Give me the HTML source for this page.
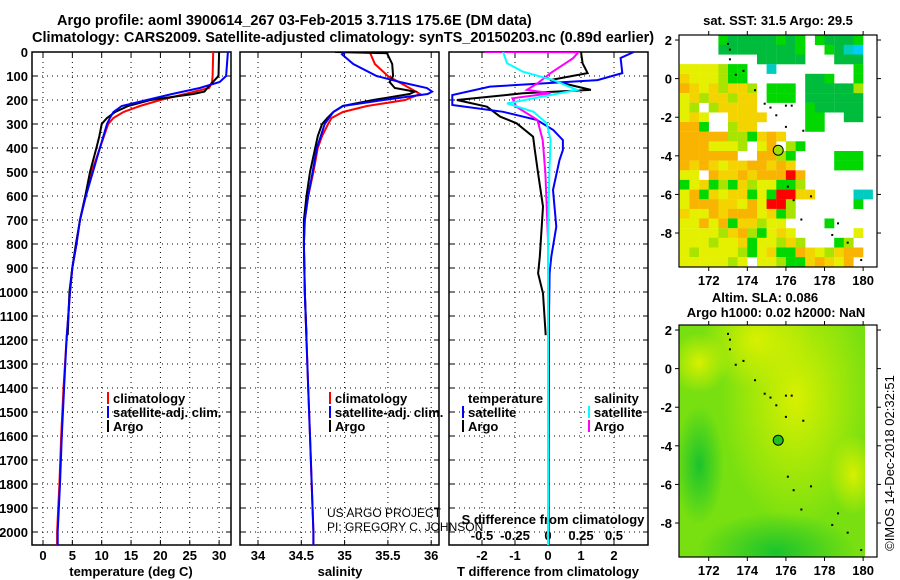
<!DOCTYPE html>
<html><head><meta charset="utf-8"><style>
html,body{margin:0;padding:0;background:#fff;}
svg{display:block;font-family:"Liberation Sans",sans-serif;}
.b{font-weight:bold;font-size:13px;}
.t{font-weight:bold;font-size:14.5px;}
</style></head><body>
<svg id="chart" width="900" height="580" viewBox="0 0 900 580" xmlns="http://www.w3.org/2000/svg">
<text class="t" x="57" y="25" text-anchor="start">Argo profile: aoml 3900614_267 03-Feb-2015 3.711S 175.6E (DM data)</text>
<text class="t" x="32" y="42" text-anchor="start">Climatology: CARS2009. Satellite-adjusted climatology: synTS_20150203.nc (0.89d earlier)</text>
<g id="g"></g>
</svg>
<script>
// ---- profile data ----
const tClimDepth=[0,100,125,150,175,200,225,250,275,300,400,500,600,700,800,900,1000,1200,1400,1600,1800,2000,2055];
const tClimVal=[29.0,28.9,28.8,28.3,24.2,20.0,16.5,13.7,12.0,11.1,9.7,8.3,7.2,6.3,5.7,5.0,4.6,4.0,3.5,3.1,2.8,2.4,2.4];
const tSatDepth=[0,100,125,150,175,200,225,250,275,300,400,500,600,700,800,900,1000,1200,1400,1600,1800,2000,2055];
const tSatVal=[31.5,31.2,30.1,26.7,22.0,17.7,13.4,12.0,11.4,10.9,9.7,8.5,7.3,6.3,5.7,5.0,4.6,4.0,3.6,3.2,2.9,2.5,2.5];
const tArgoDepth=[0,100,110,150,165,175,200,225,250,275,300,350,400,500,600,700,800,900,1000,1180];
const tArgoVal=[30.0,29.9,29.5,28.0,27.5,25.6,18.3,14.5,12.3,10.9,10.0,9.6,9.1,8.0,7.2,6.3,5.6,5.0,4.5,4.2];

const sClimDepth=[0,50,100,150,175,200,225,250,275,300,350,400,500,600,700,800,1000,1200,1400,1600,1800,2000,2055];
const sClimVal=[35.29,35.35,35.5,35.75,35.87,35.7,35.26,34.98,34.85,34.81,34.74,34.69,34.64,34.58,34.54,34.53,34.54,34.56,34.58,34.6,34.62,34.64,34.64];
const sSatDepth=[0,10,50,100,125,150,165,175,200,225,250,300,400,500,600,700,800,1000,1200,1400,1600,1800,2000,2055];
const sSatVal=[35.0,34.97,35.1,35.37,35.64,35.95,36.01,35.96,35.45,34.98,34.87,34.77,34.68,34.63,34.58,34.54,34.53,34.54,34.56,34.58,34.6,34.62,34.64,34.64];
const sArgoDepth=[0,5,50,100,125,150,165,175,200,225,250,275,300,350,400,500,600,700,800,1000,1180];
const sArgoVal=[34.89,35.49,35.55,35.56,35.52,35.58,35.81,35.75,35.33,34.98,34.87,34.8,34.74,34.69,34.66,34.6,34.56,34.53,34.53,34.54,34.56];

const dTSatDepth=[0,25,88,117,144,179,221,249,283,325,367,408,450,575,728,853,922,1100,1400,1700,2000,2055];
const dTSatVal=[2.6,2.2,2.25,1.5,-1.76,-2.9,-2.9,-1.36,-0.34,0.16,0.45,0.45,0.35,0.15,0.25,0.1,0.05,0.03,0.03,0.02,0.02,0.02];
const dTArgoDepth=[0,47,88,117,158,172,200,228,269,297,353,408,506,644,853,922,1006,1180];
const dTArgoVal=[1.0,1.05,1.2,0.06,1.3,-0.76,-2.76,-1.85,-1.45,-0.95,-0.45,-0.4,-0.3,-0.15,-0.25,-0.3,-0.15,-0.07];
const dSSatDepth=[0,47,82,117,158,179,214,249,297,367,506,783,2055];
const dSSatVal=[-0.34,-0.31,-0.19,0.04,0.22,0.02,-0.31,-0.11,-0.01,0.02,0.01,0.0,0.0];
const dSArgoDepth=[0,1,26,88,131,158,172,193,228,283,367,506,783,1180];
const dSArgoVal=[-0.48,0.23,0.19,0.02,-0.08,-0.16,0.02,-0.27,-0.24,-0.08,-0.04,-0.02,0.0,0.0];

const depthTicks=[0,100,200,300,400,500,600,700,800,900,1000,1100,1200,1300,1400,1500,1600,1700,1800,1900,2000];
const tTicks=[0,5,10,15,20,25,30];
const sTicks=[34,34.5,35,35.5,36];
const sTickLabels=["34","34.5","35","35.5","36"];
const dTTicks=[-2,-1,0,1,2];
const dSTicks=[-0.5,-0.25,0,0.25,0.5];
const dSTickLabels=["-0.5","-0.25","0","0.25","0.5"];

// ---- SST map grid (0.5 deg cells, lon 170.5.., lat 2.25 downward) ----
const sstRows=[
"....gGGGGGgGg.gGGGg.",
"....GGGGGGGGg..gGcC.",
"........GGGGG...GGG.",
"yyyylgg..c........g.",
"Yyyylgg......GGg..g.",
"oYyYlYYl.ggg.GGGGGl.",
"yYlYYlYY.ggg.GGGGGG.",
"yl.lYYYY.....gGGGGG.",
"yYy..YYYY....gg..GG.",
"oog..lYY.....gg.....",
"ooooollgYoY.........",
"oooyyyl.yo.lg.......",
"oooooo..oolg....ggg.",
"oYoYyYYooYoY....ggg.",
"yy.oYYoYoooro.......",
"gyYglgYlyyggl.......",
"yogYyYYgygrrYY....cc",
"yoooYYyoyrrl......g.",
"YyyoYoooyYgl........",
"yyoyogYYlyy....g....",
"yyyylYolgyYy......y.",
"yyylyyYgyylYl...gl..",
"ylyyyylgyYggoYylYoo.",
"yyyyyly.yylggYoYyo.."];
const sstColors={y:"#e4f000",Y:"#f4d400",o:"#f8b400",l:"#a8e400",g:"#00d800",G:"#00bc3c",r:"#ff0000",c:"#00ccc0",C:"#00ccff"};
const islandLon=[173,173.1,173.1,173.4,173.8,174.4,174.9,175.2,175.5,176.0,176.3,176.0,176.9,176.1,176.4,177.3,176.8,178.7,178.4,179.2,179.9];
const islandLat=[1.8,1.5,1.0,0.2,0.4,-0.6,-1.3,-1.5,-1.9,-1.4,-1.4,-2.5,-2.7,-5.6,-6.3,-6.1,-7.3,-7.5,-8.1,-8.5,-9.4];
const argoLon=175.6, argoLat=-3.711;
const latTicks=[2,0,-2,-4,-6,-8];
const lonTicks=[172,174,176,178,180];

const NS="http://www.w3.org/2000/svg";
const G=document.getElementById('g');
function el(tag,attrs,parent){const e=document.createElementNS(NS,tag);for(const k in attrs)e.setAttribute(k,attrs[k]);(parent||G).appendChild(e);return e;}
function txt(x,y,s,cls,anchor,parent){const e=el('text',{x:x,y:y,'class':cls||'b','text-anchor':anchor||'middle'},parent);e.textContent=s;return e;}

const TOP=52, PXD=0.24, BOT=545;
const yD=d=>TOP+d*PXD;
const panels=[{x0:32,x1:231},{x0:240,x1:439},{x0:449,x1:648}];
const xT=v=>43+v*5.87;
const xS=v=>258+(v-34)*86.6;
const xDT=v=>548+v*33;
const xDS=v=>548+v*132;

const defs=el('defs',{});
panels.forEach((p,i)=>{const c=el('clipPath',{id:'cp'+i},defs);el('rect',{x:p.x0,y:TOP,width:p.x1-p.x0,height:BOT-TOP},c);});
const cm=el('clipPath',{id:'cm0'},defs);el('rect',{x:679,y:35,width:198,height:232},cm);
const cm2=el('clipPath',{id:'cm1'},defs);el('rect',{x:679,y:325,width:186,height:232},cm2);

panels.forEach((p,i)=>{
  const pg=el('g',{});
  
  
  depthTicks.forEach(d=>{if(d>0){el('line',{x1:p.x0,x2:p.x1,y1:yD(d),y2:yD(d),stroke:'#000','stroke-width':1,'stroke-dasharray':'1,4'},pg);
    el('line',{x1:p.x0,x2:p.x0+5,y1:yD(d),y2:yD(d),stroke:'#000'},pg);el('line',{x1:p.x1-5,x2:p.x1,y1:yD(d),y2:yD(d),stroke:'#000'},pg);}});
  let xs,fn;
  if(i==0){xs=tTicks;fn=xT;}else if(i==1){xs=sTicks;fn=xS;}else{xs=dTTicks;fn=xDT;}
  xs.forEach(v=>{el('line',{x1:fn(v),x2:fn(v),y1:TOP,y2:BOT,stroke:'#000','stroke-dasharray':'1,4'},pg);
    el('line',{x1:fn(v),x2:fn(v),y1:BOT-5,y2:BOT,stroke:'#000'},pg);el('line',{x1:fn(v),x2:fn(v),y1:TOP,y2:TOP+5,stroke:'#000'},pg);});
  const r=el('rect',{x:p.x0,y:TOP,width:p.x1-p.x0,height:BOT-TOP,fill:'none',stroke:'#000','stroke-width':1.5},pg);
  
  
});
depthTicks.forEach(d=>{const t=txt(28,yD(d)+5,String(d),'b','end');
  
  });
tTicks.forEach(v=>{const t=txt(xT(v),560,String(v));
  
  });
sTicks.forEach((v,i)=>{const t=txt(xS(v),560,sTickLabels[i]);
  
  });
dTTicks.forEach(v=>{const t=txt(xDT(v),560,String(v));
  
  });
dSTicks.forEach((v,i)=>{const t=txt(xDS(v),540,dSTickLabels[i]);
  
  });
[[131,'temperature (deg C)','x-axis-title-temperature'],[340,'salinity','x-axis-title-salinity'],[548,'T difference from climatology','x-axis-title-t-diff']].forEach(a=>{
  const t=txt(a[0],576,a[1]);});
{const t=txt(553,524,'S difference from climatology');}
{const t=txt(327,517,'US ARGO PROJECT',null,'start');t.setAttribute('style','font-size:12px;font-weight:normal');}
{const t=txt(327,531,'PI: GREGORY C. JOHNSON',null,'start');t.setAttribute('style','font-size:12px;font-weight:normal');}

function series(depths,vals,fx,color,clip,name){
  const pts=depths.map((d,i)=>fx(vals[i]).toFixed(1)+','+yD(d).toFixed(1)).join(' ');
  const p=el('polyline',{points:pts,fill:'none',stroke:color,'stroke-width':2,'clip-path':'url(#'+clip+')'});
  
  
}
series(tClimDepth,tClimVal,xT,'#f00','cp0','temperature-climatology-line');
series(tArgoDepth,tArgoVal,xT,'#000','cp0','temperature-argo-line');
series(tSatDepth,tSatVal,xT,'#00f','cp0','temperature-satellite-line');
series(sClimDepth,sClimVal,xS,'#f00','cp1','salinity-climatology-line');
series(sArgoDepth,sArgoVal,xS,'#000','cp1','salinity-argo-line');
series(sSatDepth,sSatVal,xS,'#00f','cp1','salinity-satellite-line');
series(dTArgoDepth,dTArgoVal,xDT,'#000','cp2','t-diff-argo-line');
series(dTSatDepth,dTSatVal,xDT,'#00f','cp2','t-diff-satellite-line');
series(dSArgoDepth,dSArgoVal,xDS,'#f0f','cp2','s-diff-argo-line');
series(dSSatDepth,dSSatVal,xDS,'#0ff','cp2','s-diff-satellite-line');

function leg(x,y,color,label,name){
  const g=el('g',{});
  
  
  el('line',{x1:x,x2:x,y1:y-10,y2:y+2,stroke:color,'stroke-width':2},g);
  txt(x+5,y+1,label,'b','start',g);
}
leg(108,402,'#f00','climatology','legend-entry-climatology');
leg(108,416,'#00f','satellite-adj. clim.','legend-entry-satellite-adj');
leg(108,430,'#000','Argo','legend-entry-argo');
leg(330,402,'#f00','climatology','legend-entry-climatology-s');
leg(330,416,'#00f','satellite-adj. clim.','legend-entry-satellite-adj-s');
leg(330,430,'#000','Argo','legend-entry-argo-s');
{const t=txt(468,403,'temperature','b','start');}
{const t=txt(594,403,'salinity','b','start');}
leg(463,416,'#00f','satellite','legend-entry-t-satellite');
leg(463,430,'#000','Argo','legend-entry-t-argo');
leg(589,416,'#0ff','satellite','legend-entry-s-satellite');
leg(589,430,'#f0f','Argo','legend-entry-s-argo');

// ---- maps ----
const mx=lon=>679+(lon-170.46)*19.3;
const my=(lat,oy)=>oy+(2.26-lat)*19.3;
function mapAxes(oy,name){
  const g=el('g',{});
  
  
  el('rect',{x:679,y:oy,width:198,height:232,fill:'none',stroke:'#000','stroke-width':1.2},g);
  latTicks.forEach(v=>{const y=my(v,oy);el('line',{x1:675,x2:679,y1:y,y2:y,stroke:'#000'},g);el('line',{x1:877,x2:881,y1:y,y2:y,stroke:'#000'},g);txt(672,y+5,String(v),'b','end',g);});
  lonTicks.forEach(v=>{const x=mx(v);el('line',{x1:x,x2:x,y1:oy+232,y2:oy+236,stroke:'#000'},g);el('line',{x1:x,x2:x,y1:oy-4,y2:oy,stroke:'#000'},g);txt(x,oy+250,String(v),'b','middle',g);});
}
const sstG=el('g',{'clip-path':'url(#cm0)'});


sstRows.forEach((row,r)=>{for(let c=0;c<row.length;c++){const ch=row[c];if(ch==='.')continue;
  const lon=170.5+c*0.5, lat=2.25-r*0.5;
  const cell=el('rect',{x:mx(lon).toFixed(1),y:my(lat,35).toFixed(1),width:9.8,height:9.8,fill:sstColors[ch]},sstG);
  
  }});
const slaG=el('g',{'clip-path':'url(#cm1)'});


const gd=el('defs',{},slaG);
function rg(id,stops){const r=el('radialGradient',{id:id},gd);stops.forEach(s=>el('stop',{offset:s[0],'stop-color':s[1],'stop-opacity':s[2]},r));}
rg('ry',[[0,'#d8f000',1],[1,'#d8f000',0]]);
rg('rdg',[[0,'#10c030',0.9],[1,'#10c030',0]]);
el('rect',{x:679,y:325,width:186,height:232,fill:'#78e010'},slaG);
el('ellipse',{cx:mx(176.5),cy:my(-1.5,325),rx:75,ry:130,fill:'url(#ry)'},slaG);
el('ellipse',{cx:mx(174.5),cy:my(1.5,325),rx:55,ry:50,fill:'url(#ry)'},slaG);
el('ellipse',{cx:mx(171.5),cy:my(0.3,325),rx:30,ry:30,fill:'url(#ry)'},slaG);
el('ellipse',{cx:mx(179.5),cy:my(-5.5,325),rx:25,ry:40,fill:'url(#ry)'},slaG);
el('ellipse',{cx:mx(175.5),cy:my(-9.5,325),rx:80,ry:40,fill:'url(#rdg)'},slaG);
el('ellipse',{cx:mx(171.5),cy:my(-5,325),rx:25,ry:60,fill:'url(#rdg)'},slaG);
[35,325].forEach(oy=>{islandLon.forEach((lon,i)=>{const d=el('rect',{x:mx(lon)-1,y:my(islandLat[i],oy)-1,width:2,height:2,fill:'#000'});
  
  });});
mapAxes(35,'sst-map-axes');
mapAxes(325,'sla-map-axes');
{const c=el('circle',{cx:mx(argoLon),cy:my(argoLat,35),r:5,fill:'#a0e000',stroke:'#000','stroke-width':1});}
{const c=el('circle',{cx:mx(argoLon),cy:my(argoLat,325),r:5,fill:'#20c020',stroke:'#000','stroke-width':1});}
{const t=txt(778,25,'sat. SST: 31.5 Argo: 29.5');}
{const t=txt(765,302,'Altim. SLA: 0.086');}
{const t=txt(776,317,'Argo h1000: 0.02 h2000: NaN');}
{const t=txt(0,0,'©IMOS 14-Dec-2018 02:32:51');t.setAttribute('style','font-size:13px;font-weight:normal');t.setAttribute('transform','translate(894,463) rotate(-90)');}
</script>
</body></html>
